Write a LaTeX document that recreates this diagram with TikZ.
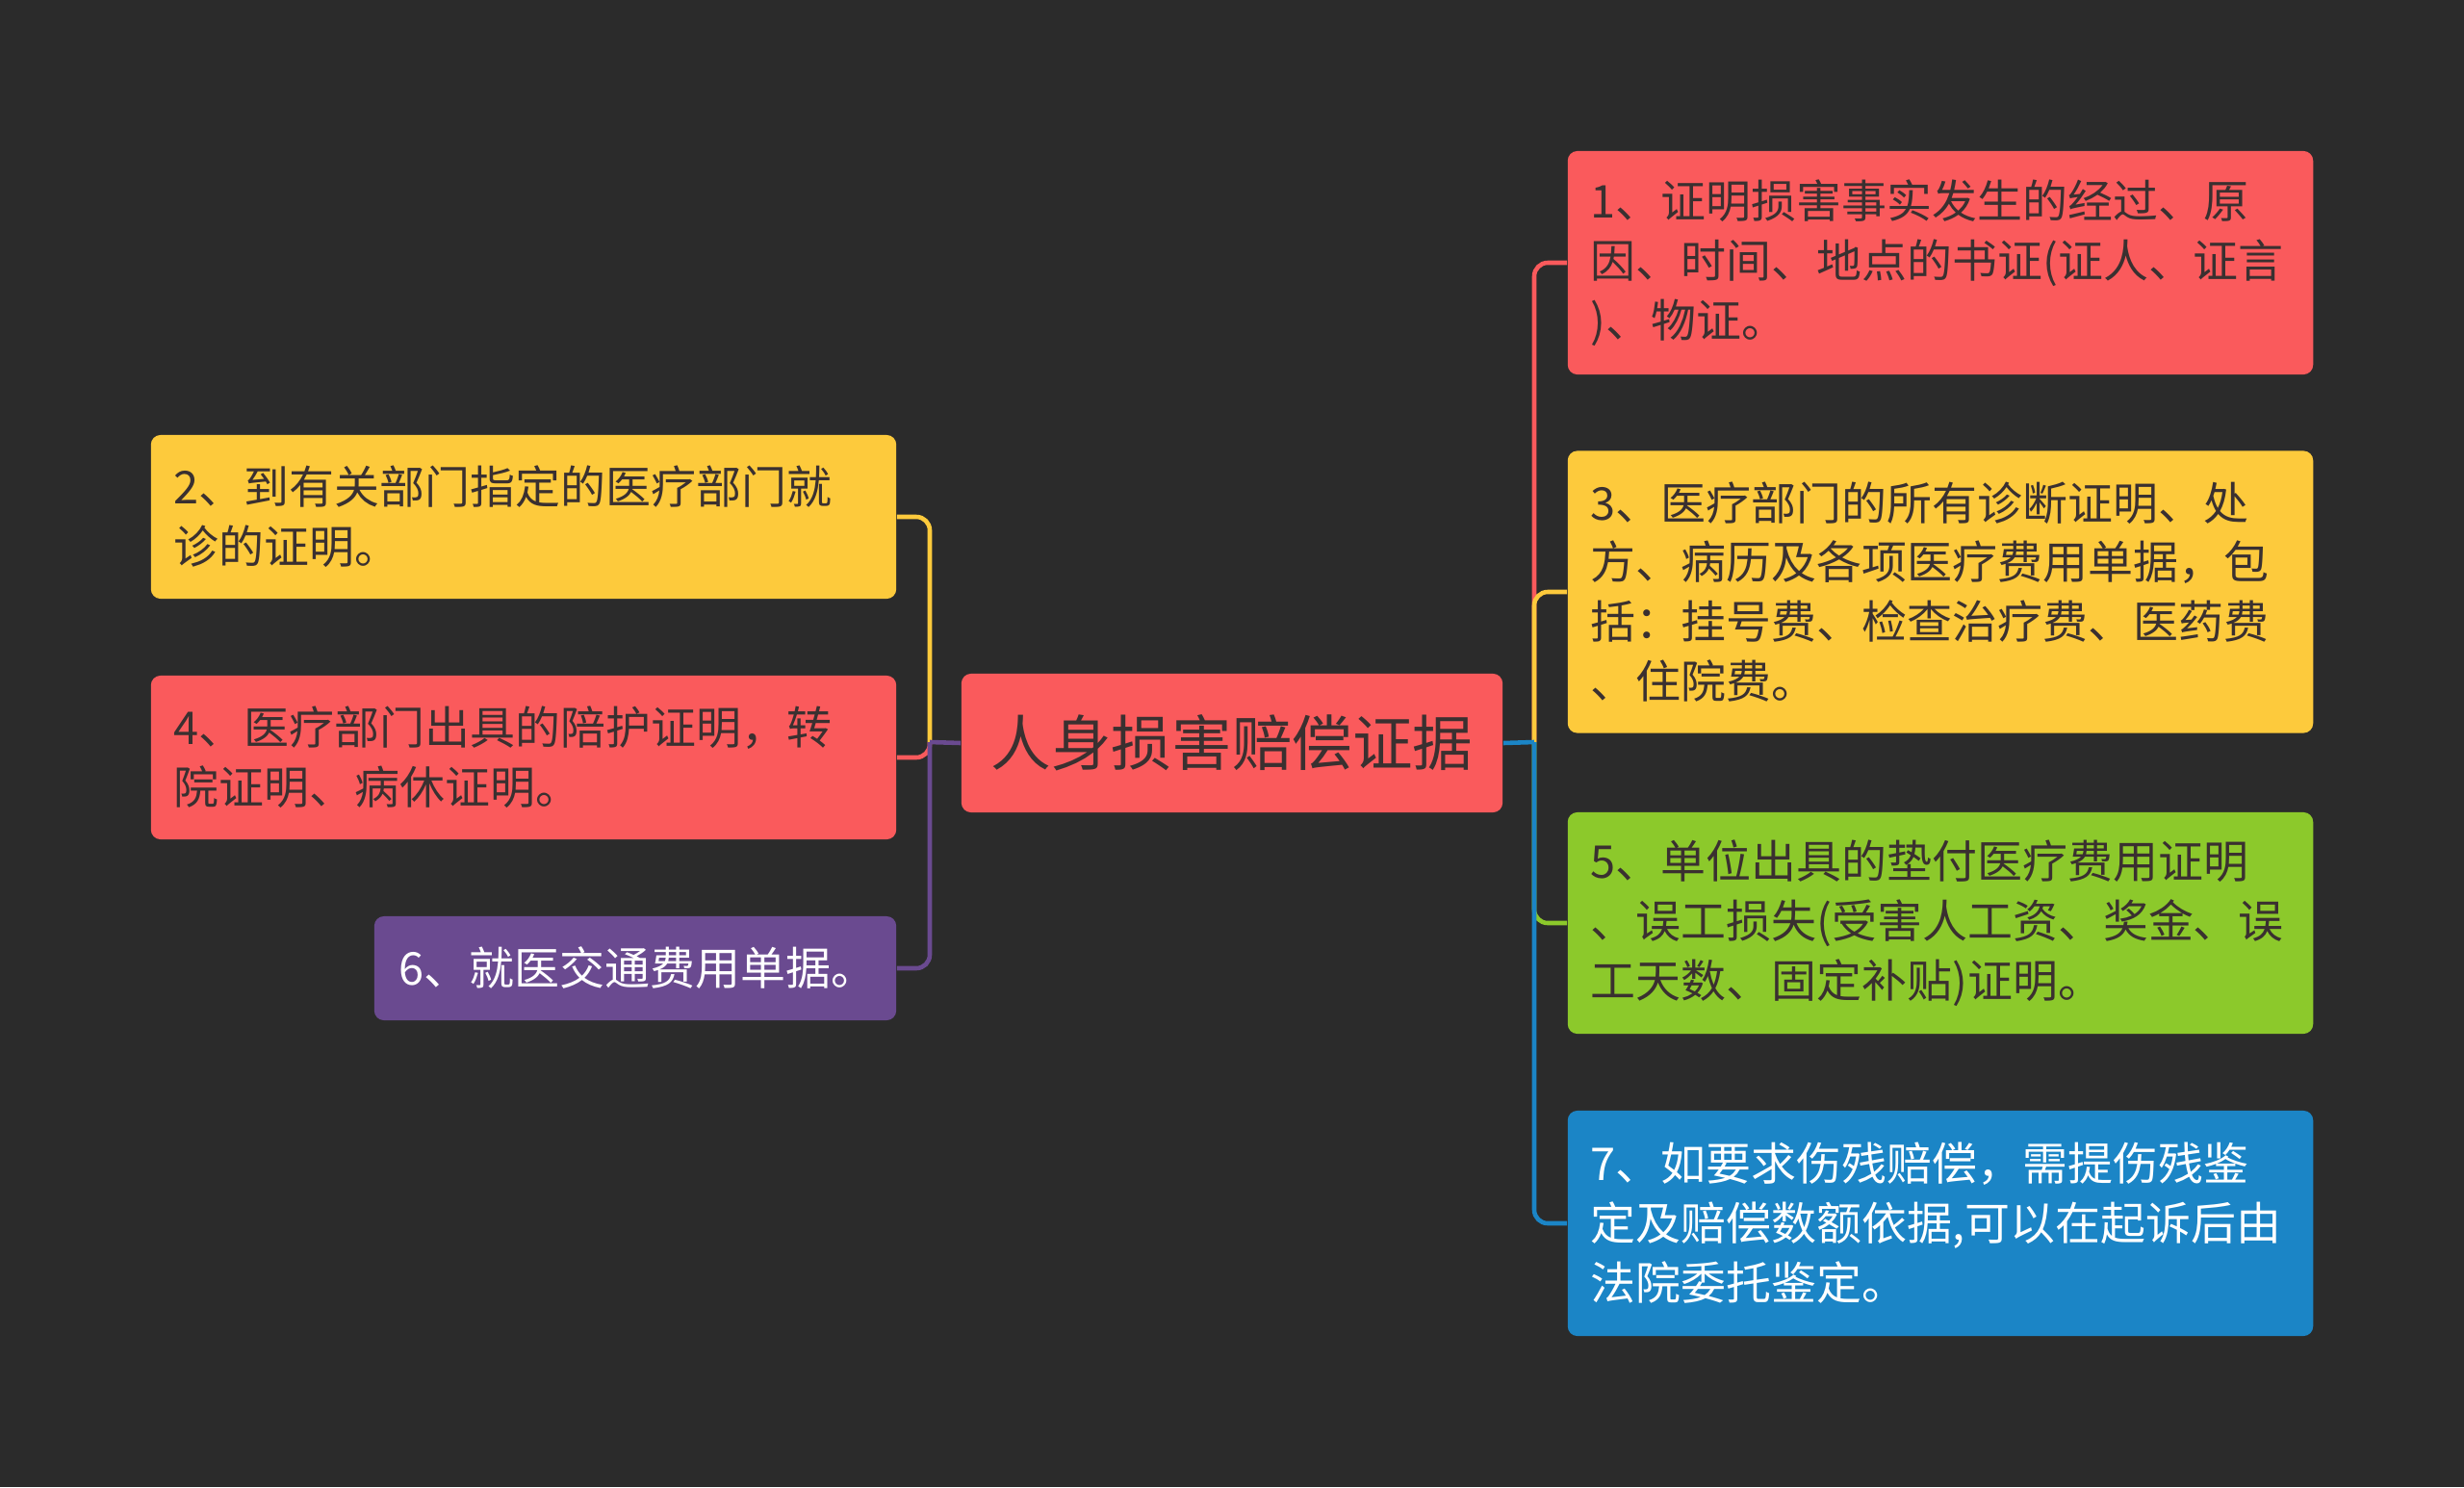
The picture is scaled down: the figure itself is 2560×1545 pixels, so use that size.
\documentclass[tikz,border=0pt]{standalone}
\usepackage{fontspec}
\setmainfont{Noto Sans CJK SC}
\usetikzlibrary{positioning}
\usepackage{xcolor}
\definecolor{bgdark}{HTML}{2B2B2B}
\definecolor{mred}{HTML}{FA5A5C}
\definecolor{myellow}{HTML}{FDCA3C}
\definecolor{mgreen}{HTML}{8CC92B}
\definecolor{mblue}{HTML}{1B85C6}
\definecolor{mpurple}{HTML}{6A4A90}
\definecolor{ink}{HTML}{3A3030}

\begin{document}
\begin{tikzpicture}[
  x=0.01cm, y=-0.01cm,
  rootbox/.style={rounded corners=0.1cm,fill=mred,text=ink,minimum width=5.62cm,minimum height=1.44cm,
    align=center,font=\fontsize{17.8}{21}\selectfont},
  leaf/.style={rounded corners=0.1cm,text width=7.26cm,inner xsep=0.24cm,inner ysep=0pt,align=left,
    text=ink,font=\fontsize{13.35}{17.6}\selectfont},
  branch/.style={line width=1.3pt,rounded corners=0.14cm}
]
\fill[bgdark] (0,0) rectangle (2560,1545);
\useasboundingbox (0,0) rectangle (2560,1545);

% centre topic and the two hubs where branches split
\node[rootbox] (root) at (1280,772) {人身损害赔偿证据};
\coordinate (lhub) at (966,771);
\coordinate (rhub) at (1594,771);

% right side
\node[leaf,fill=mred,minimum height=2.32cm] (n1) at (2016,273)
  {1、证明损害事实发生的经过、原\\因、时间、地点的书证(证人、证言\\)、物证。};
\node[leaf,fill=myellow,minimum height=2.93cm] (n3) at (2016,615)
  {3、医疗部门的所有诊断证明、处\\方、病历及各项医疗费用单据，包\\括：挂号费、检查治疗费、医药费\\、住院费。};
\node[leaf,fill=mgreen,minimum height=2.30cm] (n5) at (2016,959)
  {5、单位出具的垫付医疗费用证明\\、误工损失(受害人工资、奖金、误\\工天数、固定补贴)证明。};
\node[leaf,fill=mblue,text=white,minimum height=2.34cm] (n7) at (2016,1271)
  {7、如要求伤残赔偿，需提伤残鉴\\定及赔偿数额依据,可以在起诉后由\\法院委托鉴定。};

% left side
\node[leaf,fill=myellow,minimum height=1.70cm] (n2) at (544,537)
  {2、到有关部门指定的医疗部门就\\诊的证明。};
\node[leaf,fill=mred,minimum height=1.70cm] (n4) at (544,787)
  {4、医疗部门出具的陪护证明，转\\院证明、病休证明。};
\node[leaf,fill=mpurple,text=white,text width=4.9cm,inner xsep=0.26cm,minimum height=1.08cm] (n6) at (660,1006)
  {6、就医交通费用单据。};

% connectors
\draw[branch,myellow] (lhub) |- (n2.east);
\draw[branch,mred] (lhub) |- (n4.east);
\draw[branch,mpurple] (lhub) |- (n6.east);
\draw[branch,mpurple] (root.west) -- (lhub);

\draw[branch,mred] (rhub) |- (n1.west);
\draw[branch,myellow] (rhub) |- (n3.west);
\draw[branch,mgreen] (rhub) |- (n5.west);
\draw[branch,mblue] (rhub) |- (n7.west);
\draw[branch,mblue] (root.east) -- (rhub);
\end{tikzpicture}
\end{document}
